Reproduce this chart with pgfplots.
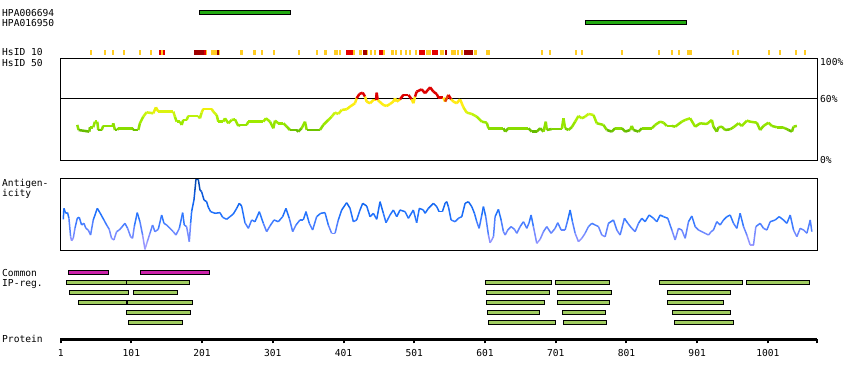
\documentclass[border=0pt]{standalone}
\usepackage{pgfplots}
\pgfplotsset{compat=1.18}
\usepackage{fontspec}
\setmainfont{DejaVu Sans Mono}
\newcommand\labfont{\fontsize{9.6pt}{11pt}\selectfont}
\definecolor{abgreen}{RGB}{34,170,17}
\definecolor{ipgreen}{RGB}{160,204,96}
\definecolor{ipmag}{RGB}{204,34,170}
\definecolor{hsyel}{RGB}{255,204,34}
\definecolor{hsred}{RGB}{228,0,0}
\definecolor{hsdark}{RGB}{160,0,0}
\pgfplotsset{
  colormap={hsid}{rgb255(0pt)=(80,160,0); rgb255(29pt)=(102,187,0); rgb255(31pt)=(136,221,0); rgb255(40pt)=(165,238,0); rgb255(46pt)=(208,245,20); rgb255(50pt)=(238,240,10); rgb255(55pt)=(255,238,20); rgb255(60pt)=(255,230,20); rgb255(61pt)=(221,0,0); rgb255(100pt)=(221,0,0)},
  colormap={antig}{rgb255(0pt)=(175,165,255); rgb255(15pt)=(140,145,255); rgb255(30pt)=(90,130,255); rgb255(45pt)=(40,118,255); rgb255(60pt)=(20,105,245); rgb255(80pt)=(10,85,210); rgb255(100pt)=(0,65,160)},
  panel/.style={scale only axis, width=756.7pt, xmin=0.5, xmax=1070.5, anchor=north west, xtick=\empty, ytick=\empty, axis line style={line width=1pt}},
}
\newcommand\pbar[5]{\addplot[fill=#5, draw=black, line width=0.9pt] coordinates {(#1,#3) (#2,#3) (#2,#4) (#1,#4)} -- cycle;}
% identity mark in the HsID 10 strip: from residue #1 to #2
\newcommand\smark[3]{\addplot[fill=#3, draw=none] coordinates {(#1,0) (#2,0) (#2,1) (#1,1)} -- cycle;}
\begin{document}
\begin{tikzpicture}
\path[use as bounding box] (0,0) rectangle (850pt,-380pt);

% antibodies
\begin{axis}[panel, hide axis, at={(60.3pt,-5pt)}, height=25pt, ymin=-0.73, ymax=1.77, y dir=reverse]
\pbar{196.6}{326}{-0.23}{0.23}{abgreen}
\pbar{742.7}{885.4}{0.77}{1.23}{abgreen}
\end{axis}

% HsID 10 strip
\begin{axis}[panel, hide axis, at={(60.3pt,-49.8pt)}, height=5pt, ymin=0, ymax=1]
\smark{42}{45}{hsyel} \smark{62}{65}{hsyel} \smark{73.5}{76.5}{hsyel} \smark{89}{92}{hsyel}
\smark{112}{115}{hsyel} \smark{127}{130}{hsyel} \smark{142.5}{146}{hsyel} \smark{206}{207.5}{hsyel}
\smark{214}{221.6}{hsyel} \smark{225}{227}{hsyel} \smark{254.6}{258.4}{hsyel} \smark{273}{277.5}{hsyel}
\smark{284}{287}{hsyel} \smark{301}{304}{hsyel} \smark{336.5}{339.5}{hsyel} \smark{362}{365}{hsyel}
\smark{374}{377}{hsyel} \smark{387.5}{392.5}{hsyel} \smark{394}{397}{hsyel} \smark{414.5}{417.5}{hsyel}
\smark{423}{427.2}{hsyel} \smark{433.5}{436}{hsyel} \smark{438.5}{441.5}{hsyel} \smark{444}{447}{hsyel}
\smark{457}{460}{hsyel} \smark{468.2}{472.4}{hsyel} \smark{474}{477}{hsyel} \smark{481}{484}{hsyel}
\smark{488}{491}{hsyel} \smark{493.5}{496.5}{hsyel} \smark{501.4}{505}{hsyel} \smark{517.7}{524.8}{hsyel}
\smark{537.5}{543.2}{hsyel} \smark{552.5}{560.1}{hsyel} \smark{561}{564}{hsyel} \smark{567}{570}{hsyel}
\smark{585.6}{589.8}{hsyel} \smark{602}{608.2}{hsyel} \smark{680}{683}{hsyel} \smark{691.5}{694.5}{hsyel}
\smark{728}{731}{hsyel} \smark{737}{740}{hsyel} \smark{793.5}{796.5}{hsyel} \smark{845.5}{848.5}{hsyel}
\smark{864}{867}{hsyel} \smark{874}{877}{hsyel} \smark{886.4}{893.9}{hsyel} \smark{950.5}{953.5}{hsyel}
\smark{957}{960}{hsyel} \smark{1001.5}{1004.5}{hsyel} \smark{1017}{1020}{hsyel} \smark{1039.5}{1042.5}{hsyel}
\smark{1052.5}{1055.5}{hsyel}
\smark{140.5}{142.5}{hsred} \smark{146}{149}{hsred} \smark{203.7}{206}{hsred} \smark{403.8}{413.7}{hsred}
\smark{451.2}{456.9}{hsred} \smark{507.8}{516.3}{hsred} \smark{525.7}{534.7}{hsred}
\smark{190}{203.7}{hsdark} \smark{221.6}{225}{hsdark} \smark{428.6}{433.5}{hsdark} \smark{544.1}{547.4}{hsdark}
\smark{571.5}{584.2}{hsdark}
\end{axis}

% HsID 50
\begin{axis}[panel, at={(60.3pt,-58.3pt)}, height=101.7pt, ymin=0, ymax=100, ytick={0,60}, yticklabels={0\%,60\%}, extra y ticks={100}, extra y tick labels={100\%}, extra y tick style={yticklabel style={yshift=-4pt}}, yticklabel pos=right, major tick length=0pt, tick style={draw=none}, yticklabel style={font=\labfont, anchor=west, inner sep=0pt, xshift=3pt}, colormap name=hsid, point meta min=0, point meta max=100]
\addplot[black, line width=1pt, forget plot] coordinates {(0.5,60) (1070.5,60)};
\addplot[mesh, point meta=y, line width=2.5pt] coordinates {(24.5,34.5) (26.4,29.5) (41.5,27.9) (42.4,32.2) (47.1,32.2) (49.5,37.7) (52.8,37.7) (54.2,29.5) (58.9,29.5) (61.3,33.5) (74.5,33.5) (75.4,36.1) (77.8,29.5) (81.1,29.5) (82.5,31.2) (102.7,31.2) (103.7,29.5) (110.8,29.5) (113.1,36.1) (117.8,42.6) (122.5,46.9) (132,45.9) (135.7,51.8) (139,47.6) (160.3,47.6) (162.6,42.6) (165,37.7) (169.7,37.7) (172.1,34.5) (174.4,39.4) (179.1,39.4) (181.5,43.3) (195.6,43.3) (198,41) (200.3,46.6) (202.7,50.2) (214.5,50.2) (216.8,47.6) (221.6,44.3) (223.9,37.7) (231,37.7) (233.3,41) (238.1,36.1) (242.8,39.4) (247.5,40) (252.2,33.5) (254.6,34.5) (264,34.5) (266.4,37.7) (287.6,37.7) (291.3,41) (297,37.7) (301.7,31.2) (304.1,38.7) (308.8,36.1) (315.9,36.1) (320.6,32.8) (325.3,29.5) (334.7,29.5) (337.1,27.9) (341.8,31.2) (346.5,37.7) (348.9,29.5) (367.7,29.5) (372.4,34.5) (379.5,39.4) (384.2,42.6) (388.9,46.6) (393.6,45.3) (398.4,49.2) (405.4,49.9) (410.2,52.5) (417.2,55.8) (419.6,60.7) (423.4,64.9) (428.1,66.2) (431.4,62.3) (433.7,57.4) (438.5,55.8) (443.2,59) (446.9,59) (447.9,66.2) (449.3,59) (457.3,54.1) (462,53.1) (466.7,55.1) (471.4,57.4) (473.8,60.7) (476.2,57.4) (480.9,59.7) (485.6,64) (492.7,64) (497.4,59.7) (499.7,55.8) (502.1,62.3) (504.4,67.2) (511.5,69.5) (516.2,65.6) (521,69.5) (523.4,71.5) (528.1,67.2) (532.8,64.9) (535.2,61.3) (542.2,61.3) (544.6,57.4) (549.3,64) (553.1,59.7) (556.4,57.4) (561.1,55.8) (565.8,59.7) (570.5,51.8) (575.2,46.6) (582.3,45.3) (589.4,42.6) (596.5,37.7) (603.5,36.7) (605.9,31.2) (627.1,31.2) (629.5,27.9) (634.2,31.2) (662.5,31.2) (667.2,27.9) (674.2,27.9) (679,31.2) (683.7,27.9) (687,37.7) (688.4,29.5) (695.5,30.5) (709.6,30.5) (712,41) (714.3,31.2) (719,29.5) (723.7,32.2) (728.5,37.7) (733.2,43.3) (737.9,41) (742.6,42.6) (747.3,45.3) (754.4,44.3) (759.1,36.1) (768.5,34.5) (773.3,29.5) (780.3,27.9) (785,31.2) (794.5,31.2) (799.2,27.9) (806.3,29.5) (808.6,33.5) (811,29.5) (818.1,27.9) (822.8,31.2) (836.9,31.2) (841.6,34.5) (848.7,37.7) (853.4,36.7) (858.1,33.5) (865.2,33.5) (869.9,32.8) (879.3,37.7) (884.1,39.4) (891.1,41) (898.2,32.8) (905.3,36.1) (914.7,35.4) (921.8,39.4) (924.1,32.8) (928.8,27.9) (931.2,32.2) (935.9,32.8) (940.6,29.5) (947.7,30.2) (952.4,32.2) (959.5,36.1) (964.2,33.5) (971.3,38.7) (976,37.7) (985.4,36.7) (990.1,29.5) (994.9,33.5) (1001.9,36.7) (1006.6,33.5) (1013.7,32.2) (1020.8,32.2) (1025.5,31.2) (1030.2,29.5) (1035,27.9) (1037.3,32.8) (1042,33.5)};
\end{axis}

% Antigenicity
\begin{axis}[panel, at={(60.3pt,-178.3pt)}, height=71.7pt, ymin=0, ymax=100, colormap name=antig, point meta min=0, point meta max=100]
\addplot[mesh, point meta=y, line width=1.5pt] coordinates {(4.7,42.8) (5.6,58.1) (8.0,51.2) (10.8,52.1) (12.7,44.2) (15.1,18.6) (16.5,13.0) (18.8,16.3) (21.2,30.2) (24.5,44.2) (27.3,45.6) (30.6,34.9) (33.9,37.2) (36.7,30.2) (40.0,27.9) (43.3,20.9) (47.1,41.9) (52.8,58.1) (56.5,52.1) (62.2,41.9) (66.0,34.9) (69.7,28.8) (73.0,16.3) (76.3,14.0) (80.1,25.6) (83.9,27.9) (87.2,31.6) (91.9,37.2) (95.7,30.2) (99.9,18.6) (102.7,16.3) (105.1,32.6) (109.3,52.1) (113.1,39.5) (116.9,20.9) (120.2,0.9) (123.5,11.6) (127.3,23.3) (131.0,34.9) (134.3,25.6) (139.0,28.8) (143.8,48.8) (147.1,37.2) (150.8,34.9) (155.6,30.2) (160.3,25.6) (164.0,20.9) (168.8,30.2) (173.5,52.1) (175.8,34.9) (179.1,32.6) (182.9,11.6) (184.8,37.2) (186.2,53.5) (189.5,69.8) (190.9,83.7) (192.3,98.6) (195.6,98.6) (198.0,83.7) (200.3,81.4) (203.7,69.8) (207.4,67.4) (209.8,59.5) (213.1,53.5) (219.2,51.2) (226.3,52.1) (230.1,45.6) (235.7,42.8) (240.4,46.5) (245.1,50.2) (249.9,58.1) (253.6,65.1) (256.9,61.4) (261.6,38.1) (266.4,30.2) (271.1,41.9) (275.8,39.5) (281.9,53.5) (287.6,37.2) (292.3,25.6) (297.0,33.5) (302.7,41.9) (308.8,39.5) (314.9,46.5) (319.6,58.1) (324.3,44.2) (329.1,25.6) (333.8,34.9) (339.4,41.9) (344.1,41.9) (347.9,53.5) (352.6,37.2) (357.3,27.9) (363.0,46.5) (368.7,51.2) (374.8,52.1) (379.5,34.9) (384.2,23.3) (389.0,23.3) (393.6,41.9) (398.4,55.8) (405.4,66.0) (410.2,58.1) (414.9,39.5) (419.6,41.9) (424.3,55.8) (428.1,65.1) (433.7,61.4) (438.5,46.5) (443.2,51.2) (447.9,42.8) (452.6,67.4) (457.3,51.2) (461.1,38.1) (466.7,48.8) (471.4,55.8) (476.2,46.5) (480.9,55.8) (488.0,53.5) (492.7,44.2) (499.7,55.8) (504.4,38.1) (508.2,58.1) (513.9,55.8) (516.3,51.2) (521.0,58.1) (528.1,65.1) (532.8,60.5) (536.1,53.5) (540.8,53.5) (544.6,65.1) (546.9,67.4) (549.3,60.5) (553.1,41.9) (558.7,39.5) (563.4,44.2) (568.2,46.5) (572.9,65.1) (577.6,67.4) (582.3,60.5) (586.1,51.2) (589.4,39.5) (592.7,30.2) (596.5,48.8) (598.8,60.5) (602.1,46.5) (605.9,20.9) (608.2,10.2) (610.6,14.0) (613.0,18.6) (615.3,46.5) (620.0,56.7) (623.8,41.9) (627.1,25.6) (629.5,20.9) (633.2,27.9) (637.9,32.6) (642.7,28.8) (646.0,23.3) (650.7,32.6) (655.4,39.5) (660.1,30.2) (663.4,38.1) (666.2,48.8) (669.5,32.6) (674.2,9.3) (679.0,14.9) (683.7,25.6) (688.4,32.6) (694.5,23.3) (700.2,30.2) (703.9,38.1) (708.7,27.9) (714.3,27.9) (718.1,41.9) (721.4,55.8) (724.7,39.5) (728.5,23.3) (733.2,11.6) (737.9,16.3) (742.6,23.3) (747.3,32.6) (752.0,37.2) (756.8,34.9) (761.5,32.6) (766.2,20.9) (770.9,18.6) (775.6,37.2) (782.7,41.9) (787.4,27.9) (792.1,20.9) (798.2,44.2) (803.0,37.2) (808.6,30.2) (813.3,25.6) (818.1,37.2) (822.8,44.2) (827.5,39.5) (833.1,48.8) (839.3,44.2) (844.0,39.5) (848.7,48.8) (853.4,46.5) (859.5,44.2) (865.2,27.9) (869.9,14.0) (874.6,30.2) (879.3,27.9) (884.1,16.3) (888.8,39.5) (893.5,47.4) (898.2,32.6) (902.9,27.9) (907.6,25.6) (912.3,23.3) (917.1,20.9) (920.8,25.6) (924.1,27.9) (928.8,39.5) (933.6,34.9) (938.3,41.9) (943.0,46.5) (947.7,48.8) (952.4,37.2) (957.1,30.2) (961.8,51.2) (966.6,32.6) (971.3,20.9) (976.0,7.0) (980.7,7.0) (984.0,32.6) (990.1,37.2) (994.9,30.2) (999.6,27.9) (1004.3,39.5) (1011.4,41.9) (1017.0,46.5) (1023.1,41.9) (1027.9,37.2) (1032.6,48.8) (1037.3,27.9) (1042.0,18.6) (1046.7,30.2) (1051.5,27.9) (1056.2,23.3) (1060.9,41.9) (1063.2,25.6)};
\end{axis}

% Common IP regions
\begin{axis}[panel, hide axis, at={(60.3pt,-265pt)}, height=65pt, ymin=-0.73, ymax=5.77, y dir=reverse]
\pbar{11.7}{68.3}{-0.2}{0.2}{ipmag}
\pbar{113.6}{211.2}{-0.2}{0.2}{ipmag}
\pbar{8.9}{93.8}{0.8}{1.2}{ipgreen}
\pbar{93.8}{183.5}{0.8}{1.2}{ipgreen}
\pbar{601.6}{695.5}{0.8}{1.2}{ipgreen}
\pbar{700.6}{777.5}{0.8}{1.2}{ipgreen}
\pbar{847.8}{965.6}{0.8}{1.2}{ipgreen}
\pbar{970.8}{1060.4}{0.8}{1.2}{ipgreen}
\pbar{13.2}{97.2}{1.8}{2.2}{ipgreen}
\pbar{103.7}{166.5}{1.8}{2.2}{ipgreen}
\pbar{603.1}{692.6}{1.8}{2.2}{ipgreen}
\pbar{703.5}{780.3}{1.8}{2.2}{ipgreen}
\pbar{859.1}{948.6}{1.8}{2.2}{ipgreen}
\pbar{25.9}{94.4}{2.8}{3.2}{ipgreen}
\pbar{95.2}{187.7}{2.8}{3.2}{ipgreen}
\pbar{603.1}{685.6}{2.8}{3.2}{ipgreen}
\pbar{703.5}{777.5}{2.8}{3.2}{ipgreen}
\pbar{859.1}{938.7}{2.8}{3.2}{ipgreen}
\pbar{93.8}{184.9}{3.8}{4.2}{ipgreen}
\pbar{604.5}{678.5}{3.8}{4.2}{ipgreen}
\pbar{710.5}{771.8}{3.8}{4.2}{ipgreen}
\pbar{866.1}{948.6}{3.8}{4.2}{ipgreen}
\pbar{96.6}{173.6}{4.8}{5.2}{ipgreen}
\pbar{605.9}{701.1}{4.8}{5.2}{ipgreen}
\pbar{712.0}{773.3}{4.8}{5.2}{ipgreen}
\pbar{869.0}{952.9}{4.8}{5.2}{ipgreen}
\end{axis}

% Protein axis
\begin{axis}[scale only axis, width=756.7pt, height=2pt, xmin=0.5, xmax=1070.5, ymin=0, ymax=1, at={(60.3pt,-339.3pt)}, anchor=south west, axis x line*=bottom, hide y axis, x axis line style={-, line width=2.7pt}, xtick={1,101,201,301,401,501,601,701,801,901,1001}, xticklabels={1,101,201,301,401,501,601,701,801,901,1001}, extra x ticks={1070.5}, extra x tick labels={}, tick align=outside, major tick length=4pt, tick style={line width=2pt, black}, xticklabel style={font=\labfont, anchor=north, inner sep=0pt, yshift=-6pt}]
\addplot[draw=none, forget plot] coordinates {(1,0) (1070,0)};
\end{axis}

\node[anchor=base west, inner sep=0pt] at (2pt,-16.7pt) {\labfont HPA006694};
\node[anchor=base west, inner sep=0pt] at (2pt,-26.7pt) {\labfont HPA016950};
\node[anchor=base west, inner sep=0pt] at (2pt,-55.3pt) {\labfont HsID 10};
\node[anchor=base west, inner sep=0pt] at (2pt,-66pt) {\labfont HsID 50};
\node[anchor=base west, inner sep=0pt] at (2pt,-186.7pt) {\labfont Antigen-};
\node[anchor=base west, inner sep=0pt] at (2pt,-196.7pt) {\labfont icity};
\node[anchor=base west, inner sep=0pt] at (2pt,-276pt) {\labfont Common};
\node[anchor=base west, inner sep=0pt] at (2pt,-286.3pt) {\labfont IP-reg.};
\node[anchor=base west, inner sep=0pt] at (2pt,-342.7pt) {\labfont Protein};
\end{tikzpicture}
\end{document}
